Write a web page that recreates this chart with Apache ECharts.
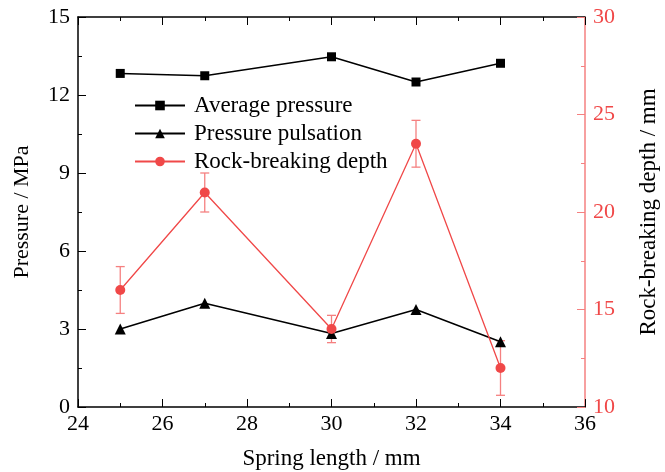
<!DOCTYPE html>
<html>
<head>
<meta charset="utf-8">
<script src="https://cdn.jsdelivr.net/npm/echarts@6/dist/echarts.min.js"></script>
<style>
  html, body { margin: 0; padding: 0; background: #fff; }
  #chart { width: 665px; height: 472px; }
</style>
</head>
<body>
<div id="chart"></div>
<script>
// Spring length (mm) on the x axis
const springLength = [25, 27, 30, 32, 34];
// Pressure (MPa), left axis
const averagePressure = [12.83, 12.74, 13.47, 12.5, 13.22];
const pressurePulsation = [3.0, 3.99, 2.83, 3.75, 2.51];
// Rock-breaking depth (mm), right axis, with symmetric error
const breakingDepth = [16.0, 21.0, 14.0, 23.5, 12.0];
const depthError = [1.2, 1.0, 0.7, 1.2, 1.4];

const FONT = '"Liberation Serif", "Times New Roman", serif';
const RED = '#f04848';
const RED_AXIS = '#f58080';

const pairs = (ys) => springLength.map((x, i) => [x, ys[i]]);
const errorData = springLength.map((x, i) => [x, breakingDepth[i] - depthError[i], breakingDepth[i] + depthError[i]]);

const chart = echarts.init(document.getElementById('chart'), null, { renderer: 'canvas' });

chart.setOption({
  animation: false,
  backgroundColor: '#fff',
  grid: { left: 78, right: 80, top: 17, bottom: 65, containLabel: false, outerBoundsMode: 'none' },
  legend: {
    left: 129, top: 89, orient: 'vertical',
    itemWidth: 50, itemHeight: 12, itemGap: 5,
    textStyle: { fontFamily: FONT, fontSize: 23, color: '#000', padding: [0, 0, 0, 4] },
    data: ['Average pressure', 'Pressure pulsation', 'Rock-breaking depth']
  },
  xAxis: [{
    type: 'value', min: 24, max: 36, interval: 2,
    name: 'Spring length / mm', nameLocation: 'middle', nameGap: 40,
    nameTextStyle: { fontFamily: FONT, fontSize: 23, color: '#000' },
    axisLine: { show: true, lineStyle: { color: '#000', width: 1.5 } },
    axisTick: { show: true, inside: true, length: 8, lineStyle: { color: '#000' } },
    minorTick: { show: true, splitNumber: 2, length: 4, lineStyle: { color: '#000' } },
    axisLabel: { fontFamily: FONT, fontSize: 22, color: '#000', margin: 6 },
    splitLine: { show: false }
  }, {
    type: 'value', min: 24, max: 36, interval: 2, position: 'top',
    axisLine: { show: true, onZero: false, lineStyle: { color: '#000', width: 1.5 } },
    axisTick: { show: true, inside: true, length: 8, lineStyle: { color: '#000' } },
    minorTick: { show: true, splitNumber: 2, length: 4, lineStyle: { color: '#000' } },
    axisLabel: { show: false },
    splitLine: { show: false }
  }],
  yAxis: [{
    type: 'value', min: 0, max: 15, interval: 3,
    name: 'Pressure / MPa', nameLocation: 'middle', nameGap: 45, nameRotate: 90,
    nameTextStyle: { fontFamily: FONT, fontSize: 22, color: '#000' },
    axisLine: { show: true, lineStyle: { color: '#000', width: 1.5 } },
    axisTick: { show: true, inside: true, length: 8, lineStyle: { color: '#000' } },
    minorTick: { show: true, splitNumber: 2, length: 4, lineStyle: { color: '#000' } },
    axisLabel: { fontFamily: FONT, fontSize: 22, color: '#000', margin: 8 },
    splitLine: { show: false }
  }, {
    type: 'value', min: 10, max: 30, interval: 5, position: 'right',
    name: 'Rock-breaking depth / mm', nameLocation: 'middle', nameGap: 52, nameRotate: 90,
    nameTextStyle: { fontFamily: FONT, fontSize: 23, color: '#000' },
    axisLine: { show: true, lineStyle: { color: RED_AXIS, width: 1.5 } },
    axisTick: { show: true, inside: true, length: 8, lineStyle: { color: RED_AXIS } },
    minorTick: { show: true, splitNumber: 2, length: 4, lineStyle: { color: RED_AXIS } },
    axisLabel: { fontFamily: FONT, fontSize: 22, color: RED, margin: 8 },
    splitLine: { show: false }
  }],
  series: [{
    name: 'Average pressure', type: 'line', xAxisIndex: 0, yAxisIndex: 0,
    data: pairs(averagePressure),
    symbol: 'rect', symbolSize: 9,
    lineStyle: { color: '#000', width: 1.5 },
    itemStyle: { color: '#000' }
  }, {
    name: 'Pressure pulsation', type: 'line', xAxisIndex: 0, yAxisIndex: 0,
    data: pairs(pressurePulsation),
    symbol: 'triangle', symbolSize: 11,
    lineStyle: { color: '#000', width: 1.5 },
    itemStyle: { color: '#000' }
  }, {
    name: 'Rock-breaking depth', type: 'line', xAxisIndex: 0, yAxisIndex: 1,
    data: pairs(breakingDepth),
    symbol: 'circle', symbolSize: 10,
    lineStyle: { color: RED, width: 1.3 },
    itemStyle: { color: RED },
    z: 3
  }, {
    name: 'depthErrorBars', type: 'custom', xAxisIndex: 0, yAxisIndex: 1,
    data: errorData,
    encode: { x: 0, y: [1, 2] },
    z: 2,
    renderItem: function (params, api) {
      const x = api.value(0);
      const lo = api.coord([x, api.value(1)]);
      const hi = api.coord([x, api.value(2)]);
      const cap = 4.5;
      const style = { stroke: RED_AXIS, lineWidth: 1.3, fill: null };
      return {
        type: 'group',
        children: [
          { type: 'line', shape: { x1: lo[0], y1: lo[1], x2: hi[0], y2: hi[1] }, style: style },
          { type: 'line', shape: { x1: lo[0] - cap, y1: lo[1], x2: lo[0] + cap, y2: lo[1] }, style: style },
          { type: 'line', shape: { x1: hi[0] - cap, y1: hi[1], x2: hi[0] + cap, y2: hi[1] }, style: style }
        ]
      };
    }
  }]
});
</script>
</body>
</html>
